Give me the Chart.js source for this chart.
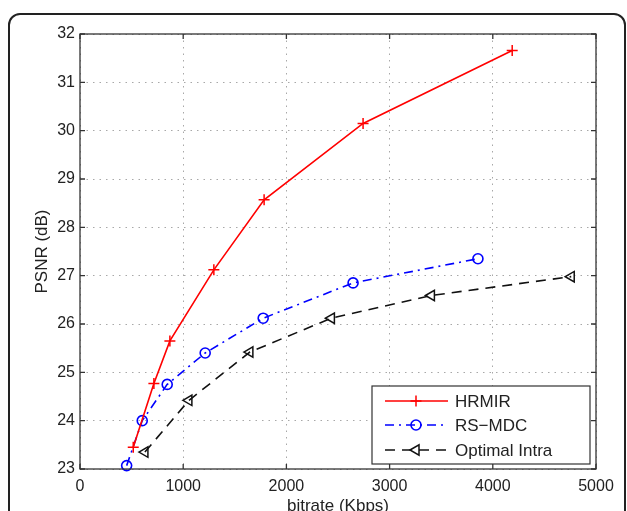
<!DOCTYPE html>
<html>
<head>
<meta charset="utf-8">
<script src="https://cdn.jsdelivr.net/npm/chart.js@4.4.0/dist/chart.umd.min.js"></script>
<style>
  html, body { margin: 0; padding: 0; background: #fff; overflow: hidden; }
  #wrap { position: relative; width: 627px; height: 511px; overflow: hidden; }
  #frame { position: absolute; left: 8px; top: 13px; width: 618px; height: 520px;
           border: 2px solid #222; border-radius: 12px; box-sizing: border-box; }
  canvas { position: absolute; left: 0; top: 0; }
</style>
</head>
<body>
<div id="wrap">
  <div id="frame"></div>
  <canvas id="psnrChart" width="627" height="520"></canvas>
</div>
<script>
// values
var seriesNames = ['HRMIR', 'RS\u2212MDC', 'Optimal Intra'];

var hrmirRate = [516, 716, 871, 1297, 1784, 2743, 4188];
var hrmirPsnr = [23.45, 24.77, 25.65, 27.12, 28.57, 30.15, 31.66];

var rsmdcRate = [452, 603, 845, 1213, 1775, 2646, 3856];
var rsmdcPsnr = [23.07, 24.00, 24.75, 25.40, 26.12, 26.85, 27.35];

var intraRate = [629, 1055, 1646, 2436, 3405, 4760];
var intraPsnr = [23.35, 24.42, 25.42, 26.12, 26.59, 26.98];

var xTicks = [0, 1000, 2000, 3000, 4000, 5000];
var yTicks = [23, 24, 25, 26, 27, 28, 29, 30, 31, 32];

var FONT = "'Liberation Sans', Arial, Helvetica, sans-serif";

function pts(xs, ys) {
    return xs.map(function (x, i) { return { x: x, y: ys[i] }; });
}

// draw a marker the same way for the legend
function marker(ctx, style, x, y, r) {
    ctx.beginPath();
    if (style === 'cross') {
        ctx.moveTo(x - r, y); ctx.lineTo(x + r, y);
        ctx.moveTo(x, y - r); ctx.lineTo(x, y + r);
    } else if (style === 'circle') {
        ctx.arc(x, y, r, 0, Math.PI * 2);
    } else {
        // triangle pointing left
        ctx.moveTo(x - r, y);
        ctx.lineTo(x + r * 0.5, y - r * 0.87);
        ctx.lineTo(x + r * 0.5, y + r * 0.87);
        ctx.closePath();
    }
    ctx.stroke();
}

var frameAndLegend = {
    id: 'frameAndLegend',
    afterDraw: function (chart) {
        var ctx = chart.ctx;
        var a = chart.chartArea;
        var xs = chart.scales.x, ys = chart.scales.y;
        ctx.save();
        // axes box
        ctx.strokeStyle = '#333';
        ctx.lineWidth = 1.3;
        ctx.setLineDash([]);
        ctx.strokeRect(a.left, a.top, a.right - a.left, a.bottom - a.top);
        // inner tick marks, MATLAB style
        var tl = 5;
        ctx.beginPath();
        xTicks.forEach(function (v) {
            var px = xs.getPixelForValue(v);
            ctx.moveTo(px, a.bottom); ctx.lineTo(px, a.bottom - tl);
            ctx.moveTo(px, a.top); ctx.lineTo(px, a.top + tl);
        });
        yTicks.forEach(function (v) {
            var py = ys.getPixelForValue(v);
            ctx.moveTo(a.left, py); ctx.lineTo(a.left + tl, py);
            ctx.moveTo(a.right, py); ctx.lineTo(a.right - tl, py);
        });
        ctx.stroke();

        // legend box
        var bx = 372, by = 386, bw = 218, bh = 78;
        ctx.fillStyle = '#fff';
        ctx.fillRect(bx, by, bw, bh);
        ctx.strokeStyle = '#333';
        ctx.lineWidth = 1.2;
        ctx.strokeRect(bx, by, bw, bh);
        var rows = [401, 425, 450];
        chart.data.datasets.forEach(function (ds, i) {
            var y = rows[i];
            ctx.strokeStyle = ds.borderColor;
            ctx.lineWidth = ds.borderWidth;
            ctx.setLineDash(ds.borderDash || []);
            ctx.beginPath();
            ctx.moveTo(385, y); ctx.lineTo(448, y);
            ctx.stroke();
            ctx.setLineDash([]);
            ctx.lineWidth = ds.pointBorderWidth;
            marker(ctx, ds.pointStyle, 416, y, ds.pointRadius);
            ctx.fillStyle = '#222';
            ctx.font = '17px ' + FONT;
            ctx.textAlign = 'left';
            ctx.textBaseline = 'middle';
            ctx.fillText(ds.label, 455, y + 1);
        });
        ctx.restore();
    }
};

var ctx = document.getElementById('psnrChart').getContext('2d');
var psnrChart = new Chart(ctx, {
    type: 'line',
    data: {
        datasets: [
            {
                label: seriesNames[0],
                data: pts(hrmirRate, hrmirPsnr),
                borderColor: '#ff0000',
                borderWidth: 1.6,
                pointStyle: 'cross',
                pointRadius: 5.5,
                pointBorderWidth: 1.5,
                pointBorderColor: '#ff0000',
                backgroundColor: 'transparent'
            },
            {
                label: seriesNames[1],
                data: pts(rsmdcRate, rsmdcPsnr),
                borderColor: '#0000ff',
                borderWidth: 1.6,
                borderDash: [9, 5, 2, 5],
                pointStyle: 'circle',
                pointRadius: 5,
                pointBorderWidth: 1.6,
                pointBorderColor: '#0000ff',
                backgroundColor: 'transparent'
            },
            {
                label: seriesNames[2],
                data: pts(intraRate, intraPsnr),
                borderColor: '#111111',
                borderWidth: 1.6,
                borderDash: [10, 7],
                pointStyle: 'triangle',
                rotation: -90,
                pointRadius: 6,
                pointBorderWidth: 1.5,
                pointBorderColor: '#111111',
                backgroundColor: 'transparent'
            }
        ]
    },
    options: {
        responsive: false,
        animation: false,
        clip: false,
        layout: { padding: { left: 0, right: 31, top: 34, bottom: 0 } },
        plugins: {
            legend: { display: false },
            tooltip: { enabled: false }
        },
        elements: { line: { tension: 0, fill: false } },
        scales: {
            x: {
                type: 'linear',
                min: 0,
                max: 5000,
                afterFit: function (s) { s.height = 51; },
                afterBuildTicks: function (s) { s.ticks = xTicks.map(function (v) { return { value: v }; }); },
                grid: { color: '#a8a8a8', lineWidth: 1, drawTicks: false },
                border: { display: false, dash: [1.5, 5] },
                ticks: {
                    padding: 8, color: '#222', font: { family: FONT, size: 16 },
                    callback: function (v) { return String(v); }
                },
                title: {
                    display: true,
                    text: 'bitrate (Kbps)',
                    color: '#222',
                    font: { family: FONT, size: 17 },
                    padding: { top: 0, bottom: 3 }
                }
            },
            y: {
                min: 23,
                max: 32,
                afterFit: function (s) { s.width = 80; },
                afterBuildTicks: function (s) { s.ticks = yTicks.map(function (v) { return { value: v }; }); },
                grid: { color: '#a8a8a8', lineWidth: 1, drawTicks: false },
                border: { display: false, dash: [1.5, 5] },
                ticks: {
                    padding: 5, color: '#222', font: { family: FONT, size: 16 },
                    callback: function (v) { return String(v); }
                },
                title: {
                    display: true,
                    text: 'PSNR (dB)',
                    color: '#222',
                    font: { family: FONT, size: 17 },
                    padding: { top: 32, bottom: 0 }
                }
            }
        }
    },
    plugins: [frameAndLegend]
});
</script>
</body>
</html>
